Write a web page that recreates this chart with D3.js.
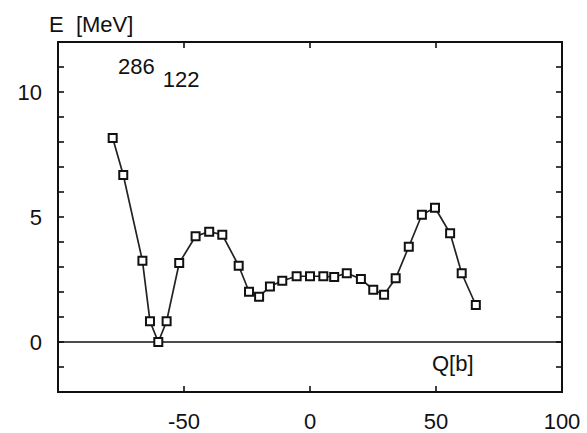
<!DOCTYPE html>
<html>
<head>
<meta charset="utf-8">
<script src="https://cdn.jsdelivr.net/npm/d3@7"></script>
<style>
  body { margin: 0; background: #fff; }
  text { font-family: "Liberation Sans", Arial, sans-serif; fill: #111; }
</style>
</head>
<body>
<div id="container"></div>
<script>
/* DATA */
const qValues = [-78.3, -74.1, -66.5, -63.5, -60.2, -56.9, -51.9, -45.4, -40, -34.8,
  -28.3, -24.2, -20.2, -15.9, -11, -5.3, 0, 5.3, 9.6, 14.6,
  20.2, 25.1, 29.4, 34, 39.2, 44.4, 49.6, 55.6, 60.2, 65.8];
const eValues = [8.16, 6.68, 3.25, 0.83, 0.0, 0.83, 3.16, 4.23, 4.41, 4.29,
  3.05, 2.01, 1.81, 2.22, 2.45, 2.63, 2.63, 2.63, 2.6, 2.75,
  2.52, 2.09, 1.89, 2.55, 3.81, 5.09, 5.37, 4.35, 2.75, 1.48];
const xTickLabels = [-50, 0, 50, 100];
const yTickLabels = [0, 5, 10];

/* CONSTANTS */
const width = 587, height = 433;
const mLeft = 58, mRight = 562, mTop = 42, mBottom = 392;
const fs = 22;

const xScale = d3.scaleLinear().domain([-100, 100]).range([mLeft, mRight]);
const yScale = d3.scaleLinear().domain([-2, 12]).range([mBottom, mTop]);

const svg = d3.select("#container")
  .append("svg")
  .attr("width", width)
  .attr("height", height);

// frame
svg.append("rect")
  .attr("x", mLeft).attr("y", mTop)
  .attr("width", mRight - mLeft).attr("height", mBottom - mTop)
  .attr("fill", "none").attr("stroke", "#111").attr("stroke-width", 2);

// zero line
svg.append("line")
  .attr("x1", mLeft).attr("x2", mRight)
  .attr("y1", yScale(0)).attr("y2", yScale(0))
  .attr("stroke", "#111").attr("stroke-width", 1.6);

// ticks (inward) on all sides
const yMinor = d3.range(-1, 12);
const xMajor = [-50, 0, 50];
const tickLen = 6;

svg.append("g").selectAll("line")
  .data(yMinor).join("line")
  .attr("x1", mLeft).attr("x2", mLeft + tickLen)
  .attr("y1", d => yScale(d)).attr("y2", d => yScale(d))
  .attr("stroke", "#111").attr("stroke-width", 1.6);
svg.append("g").selectAll("line")
  .data(yMinor).join("line")
  .attr("x1", mRight).attr("x2", mRight - tickLen)
  .attr("y1", d => yScale(d)).attr("y2", d => yScale(d))
  .attr("stroke", "#111").attr("stroke-width", 1.6);
svg.append("g").selectAll("line")
  .data(xMajor).join("line")
  .attr("x1", d => xScale(d)).attr("x2", d => xScale(d))
  .attr("y1", mBottom).attr("y2", mBottom - tickLen)
  .attr("stroke", "#111").attr("stroke-width", 1.6);
svg.append("g").selectAll("line")
  .data(xMajor).join("line")
  .attr("x1", d => xScale(d)).attr("x2", d => xScale(d))
  .attr("y1", mTop).attr("y2", mTop + tickLen)
  .attr("stroke", "#111").attr("stroke-width", 1.6);

// tick labels
svg.append("g").selectAll("text")
  .data(xTickLabels).join("text")
  .attr("x", d => xScale(d))
  .attr("y", 429)
  .attr("text-anchor", "middle")
  .attr("font-size", fs)
  .text(d => d);
svg.append("g").selectAll("text")
  .data(yTickLabels).join("text")
  .attr("x", 42)
  .attr("y", d => yScale(d))
  .attr("dy", "0.36em")
  .attr("text-anchor", "end")
  .attr("font-size", fs)
  .text(d => d);

// axis titles
svg.append("text")
  .attr("x", 49).attr("y", 32)
  .attr("font-size", fs)
  .attr("xml:space", "preserve")
  .text("E  [MeV]");
svg.append("text")
  .attr("x", 432).attr("y", 371)
  .attr("font-size", fs)
  .text("Q[b]");

// nucleus label
const nucl = svg.append("text")
  .attr("x", 118).attr("y", 74)
  .attr("font-size", fs);
nucl.append("tspan").text("286");
nucl.append("tspan").attr("dx", 8).attr("dy", 13).text("122");

// data
const data = qValues.map((q, i) => ({ q: q, e: eValues[i] }));

const line = d3.line()
  .x(d => xScale(d.q))
  .y(d => yScale(d.e));

svg.append("path")
  .datum(data)
  .attr("fill", "none")
  .attr("stroke", "#222")
  .attr("stroke-width", 1.7)
  .attr("d", line);

const s = 8;
svg.append("g").selectAll("rect")
  .data(data).join("rect")
  .attr("x", d => xScale(d.q) - s / 2)
  .attr("y", d => yScale(d.e) - s / 2)
  .attr("width", s).attr("height", s)
  .attr("fill", "#fff")
  .attr("stroke", "#111")
  .attr("stroke-width", 2);
</script>
</body>
</html>
